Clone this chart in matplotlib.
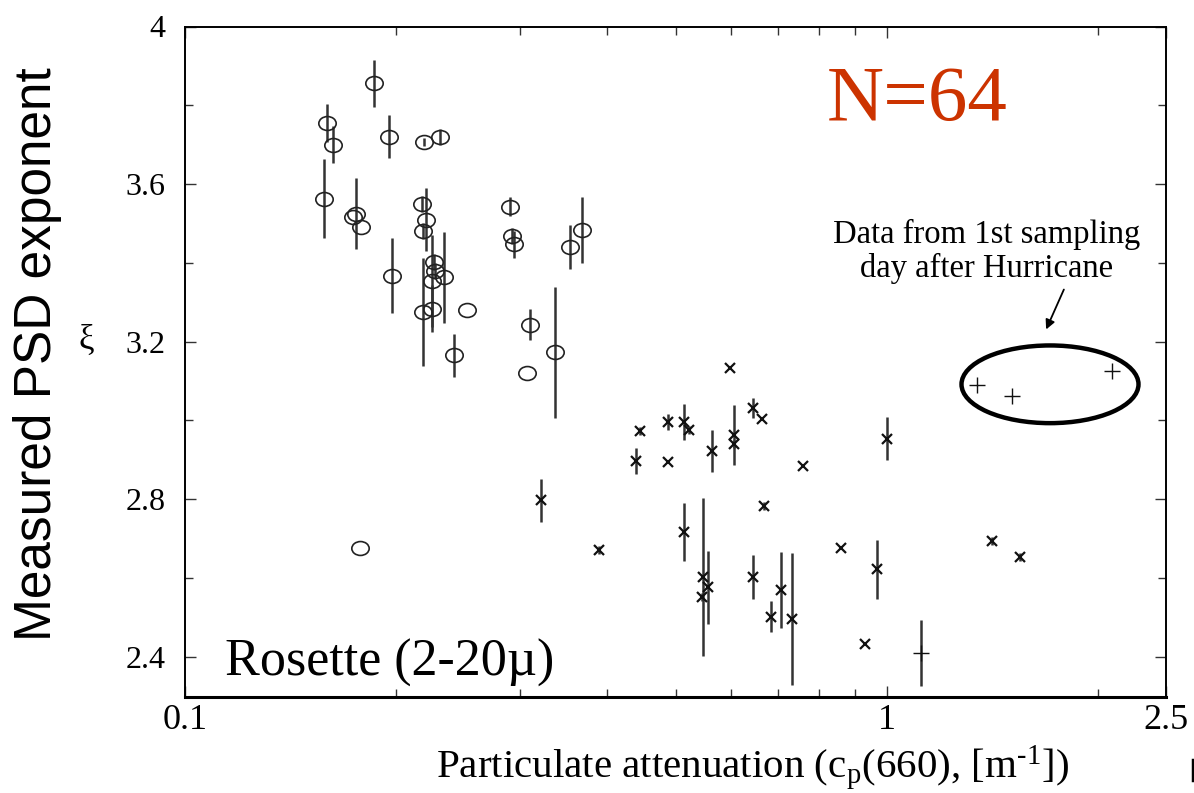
import numpy as np
import matplotlib
matplotlib.use("Agg")
import matplotlib.pyplot as plt
from matplotlib.patches import Ellipse
from matplotlib.path import Path
from matplotlib.transforms import Affine2D
from matplotlib.ticker import FixedLocator, NullFormatter, FixedFormatter

# ---------------- data ----------------
# Group 1: open circles
circ_x = [0.1861, 0.1593, 0.1624, 0.1954, 0.2193, 0.2306, 0.1579, 0.1754, 0.1735, 0.1783,
          0.2176, 0.2205, 0.2187, 0.2187, 0.1972, 0.2266, 0.2274, 0.2249, 0.2249, 0.2337,
          0.2523, 0.2414, 0.2902, 0.2924, 0.2947, 0.3535, 0.3682, 0.3107, 0.3073, 0.3365,
          0.1777]
circ_y = [3.856, 3.755, 3.700, 3.720, 3.706, 3.720, 3.563, 3.525, 3.516, 3.490,
          3.550, 3.509, 3.481, 3.276, 3.367, 3.403, 3.380, 3.354, 3.284, 3.363,
          3.280, 3.165, 3.543, 3.468, 3.447, 3.440, 3.483, 3.243, 3.120, 3.173,
          2.676]
circ_err = [0.060, 0.048, 0.047, 0.055, 0.010, 0.020, 0.100, 0.090, 0.0, 0.0,
            0.020, 0.080, 0.020, 0.137, 0.095, 0.020, 0.020, 0.118, 0.060, 0.115,
            0.0, 0.055, 0.023, 0.020, 0.034, 0.055, 0.083, 0.040, 0.0, 0.167,
            0.0]

# Group 2: crosses
cross_x = [0.3221, 0.3884, 0.4395, 0.4448, 0.4883, 0.4883, 0.5149, 0.5224, 0.5630, 0.6056,
           0.6056, 0.5977, 0.6453, 0.6647, 0.7597, 0.6683, 0.5149, 0.5478, 0.5562, 0.5460,
           0.6453, 0.6847, 0.7060, 0.7337, 0.8618, 0.9698, 0.9303, 1.000, 1.411, 1.550]
cross_y = [2.797, 2.671, 2.897, 2.973, 2.997, 2.895, 2.996, 2.976, 2.922, 2.962,
           2.941, 3.132, 3.031, 3.004, 2.884, 2.783, 2.717, 2.603, 2.576, 2.551,
           2.603, 2.502, 2.570, 2.496, 2.675, 2.622, 2.433, 2.954, 2.694, 2.654]
cross_err = [0.055, 0.010, 0.032, 0.010, 0.020, 0.0, 0.046, 0.010, 0.053, 0.076,
             0.010, 0.0, 0.025, 0.0, 0.0, 0.010, 0.073, 0.200, 0.093, 0.010,
             0.056, 0.040, 0.097, 0.167, 0.0, 0.075, 0.0, 0.054, 0.010, 0.010]

# Group 3: plus signs (1st sampling day after hurricane + one other)
plus_x = [1.118, 1.344, 1.508, 2.094]
plus_y = [2.410, 3.090, 3.063, 3.125]
plus_err = [0.083, 0.0, 0.0, 0.0]

x_major = [0.1, 1, 2.5]
x_major_labels = ["0.1", "1", "2.5"]
x_minor = [0.2, 0.3, 0.4, 0.5, 0.6, 0.7, 0.8, 0.9, 2.0]
y_major = [2.4, 2.8, 3.2, 3.6, 4.0]
y_major_labels = ["2.4", "2.8", "3.2", "3.6", "4"]
y_minor = [2.6, 3.0, 3.4, 3.8]

# ---------------- figure ----------------
plt.rcParams['font.family'] = ['Liberation Serif', 'DejaVu Serif']
plt.rcParams['mathtext.fontset'] = 'custom'
plt.rcParams['mathtext.rm'] = 'Liberation Serif'
plt.rcParams['mathtext.it'] = 'Liberation Serif:italic'

W, H = 1194, 793
fig = plt.figure(figsize=(W / 100, H / 100), dpi=100)
ax_l, ax_r, ax_t, ax_b = 185, 1166, 26.5, 697
ax = fig.add_axes([ax_l / W, 1 - ax_b / H, (ax_r - ax_l) / W, (ax_b - ax_t) / H])

ax.set_xscale('log')
ax.set_xlim(0.1, 2.5)
ax.set_ylim(2.298, 4.0)

ell_marker = Path.unit_circle().transformed(Affine2D().scale(1.0, 0.8))

err_kw = dict(ecolor='#333333', elinewidth=1.8, capsize=0, linestyle='none')
ax.errorbar(circ_x, circ_y, yerr=circ_err, fmt='none', **err_kw)
ax.errorbar(cross_x, cross_y, yerr=cross_err, fmt='none', **err_kw)
ax.errorbar(plus_x, plus_y, yerr=plus_err, fmt='none', **err_kw)

ax.plot(circ_x, circ_y, linestyle='none', marker=ell_marker, markersize=12.5,
        markerfacecolor='none', markeredgecolor='#222222', markeredgewidth=1.2)
ax.plot(cross_x, cross_y, linestyle='none', marker='x', markersize=7.5,
        markeredgecolor='#111111', markeredgewidth=1.6)
ax.plot(plus_x, plus_y, linestyle='none', marker='+', markersize=11,
        markeredgecolor='#111111', markeredgewidth=1.0)

# ticks
ax.xaxis.set_major_locator(FixedLocator(x_major))
ax.xaxis.set_major_formatter(FixedFormatter(x_major_labels))
ax.xaxis.set_minor_locator(FixedLocator(x_minor))
ax.xaxis.set_minor_formatter(NullFormatter())
ax.yaxis.set_major_locator(FixedLocator(y_major))
ax.yaxis.set_major_formatter(FixedFormatter(y_major_labels))
ax.yaxis.set_minor_locator(FixedLocator(y_minor))
ax.yaxis.set_minor_formatter(NullFormatter())

ax.tick_params(which='both', direction='in', top=True, right=True, color='#333333')
ax.tick_params(which='major', length=8, width=1.0)
ax.tick_params(which='minor', length=6, width=1.0)
ax.tick_params(axis='x', which='major', labelsize=26, pad=5)
ax.tick_params(axis='y', which='major', labelsize=23, pad=14)
for s in ['left', 'top', 'right']:
    ax.spines[s].set_linewidth(1.4)
ax.spines['bottom'].set_linewidth(2.2)

# ellipse around hurricane points
ell_cx = (1050 - ax_l) / (ax_r - ax_l)
ell_cy = (ax_b - 384.3) / (ax_b - ax_t)
ax.add_patch(Ellipse((ell_cx, ell_cy), 177 / (ax_r - ax_l), 77.7 / (ax_b - ax_t),
                     transform=ax.transAxes, fill=False, edgecolor='black', linewidth=3.2))

# annotation text and arrow
def fpos(px, py):
    return px / W, 1 - py / H

fig.text(*fpos(987, 243), "Data from 1st sampling", ha='center', va='baseline', fontsize=23.5)
fig.text(*fpos(987, 277), "day after Hurricane", ha='center', va='baseline', fontsize=23.5)
ax.annotate('', xy=(1045, H - 332), xycoords='figure pixels',
            xytext=(1065, H - 287), textcoords='figure pixels',
            arrowprops=dict(arrowstyle='-|>', color='black', lw=1.3, mutation_scale=14))

fig.text(*fpos(827, 120), "N=64", color='#cc3300', fontsize=57, ha='left', va='baseline')
fig.text(*fpos(225, 676), "Rosette (2-20\u00b5)", fontsize=37.5, ha='left', va='baseline')

fig.text(*fpos(753, 777), "Particulate attenuation (c$_\\mathrm{p}$(660), [m$^\\mathrm{\u2010 1}$])",
         fontsize=29.5, ha='center', va='baseline')
fig.text(*fpos(86, 340), "\u03be", fontsize=25, ha='center', va='center')
fig.text(*fpos(38, 354), "Measured PSD exponent", rotation=90, ha='center', va='center',
         fontsize=37, family=['Liberation Sans', 'DejaVu Sans'])

# small mark at bottom right
fig.add_artist(plt.Line2D([1193 / W, 1193 / W], [1 - 760 / H, 1 - 780 / H],
                          color='black', linewidth=2.5, transform=fig.transFigure))

fig.savefig("out.png", dpi=100)
